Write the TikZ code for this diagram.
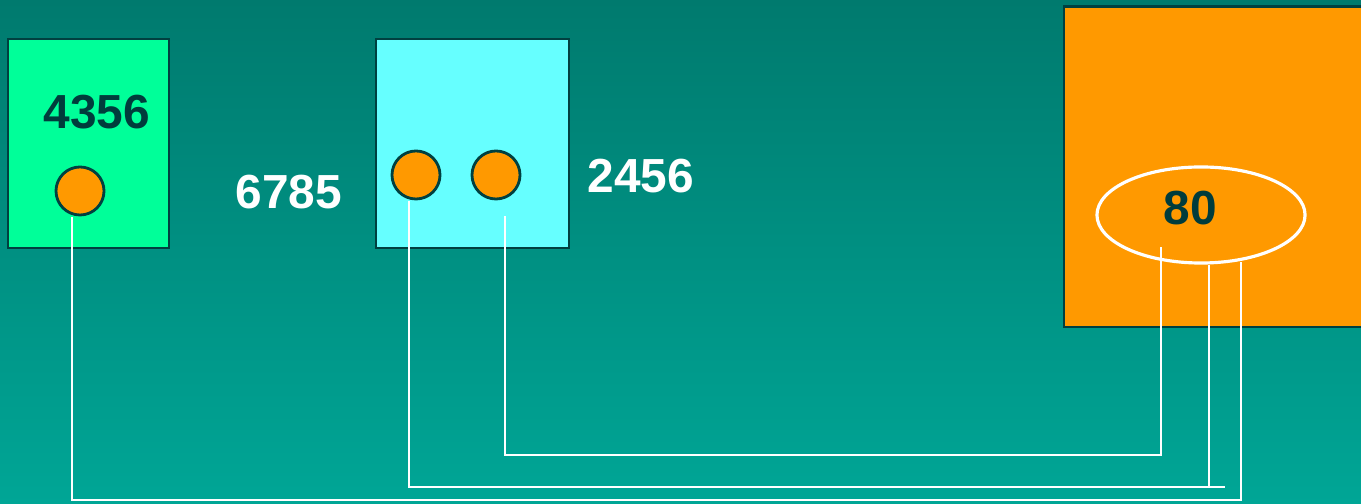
\documentclass[tikz,border=0pt]{standalone}
\usepackage{fontspec}
\setmainfont{Liberation Sans}
\usepackage{tikz}
\usetikzlibrary{positioning,calc,shapes.geometric}
\definecolor{bgtop}{RGB}{0,122,110}
\definecolor{bgbot}{RGB}{0,166,150}
\definecolor{edgecolor}{RGB}{0,64,64}
\definecolor{darktext}{RGB}{0,60,60}
\definecolor{greenbox}{RGB}{0,255,153}
\definecolor{cyanbox}{RGB}{102,255,255}
\definecolor{orangebox}{RGB}{255,153,0}
\tikzset{
  mem box/.style={
    draw=edgecolor,
    line width=0.8pt,
    inner sep=0pt
  },
  pin/.style={
    circle,
    draw=edgecolor,
    line width=0.8pt,
    fill=orangebox,
    inner sep=0pt,
    minimum size=0.48cm
  },
  val/.style={
    font=\fontsize{13.6}{16}\selectfont\bfseries
  },
  wire/.style={
    draw=white,
    line width=0.75pt
  }
}

\begin{document}
\begin{tikzpicture}[x=0.01cm,y=-0.01cm]

  % Background
  \useasboundingbox (0,0) rectangle (1361,504);
  \clip (0,0) rectangle (1361,504);
  \shade[top color=bgtop, bottom color=bgbot] (0,0) rectangle (1361,504);

  % Left box
  \node[mem box, fill=greenbox, minimum width=1.61cm, minimum height=2.09cm] (boxA) at (88.5,143.5) {};
  \node[val, text=darktext] (numA) at (97,112) {4356};
  \node[pin] (pinA) at (80,191) {};

  % Middle box
  \node[mem box, fill=cyanbox, minimum width=1.93cm, minimum height=2.09cm] (boxB) at (472.5,143.5) {};
  \node[pin] (pinB) at (416,175) {};
  \node[pin] (pinC) at (496,175) {};
  \node[val, text=white] (numB) at (289,192) {6785};
  \node[val, text=white] (numC) at (641,176) {2456};

  % Right box
  \node[mem box, fill=orangebox, minimum width=3.1cm, minimum height=3.2cm] (boxD) at (1219,167) {};
  \node[ellipse, draw=white, line width=0.9pt, minimum width=2.08cm, minimum height=0.96cm] (ring) at (1201,215) {};
  \node[val, text=darktext] (numD) at (1190,208) {80};

  % Wire ends
  \coordinate (a1) at ($(pinA.south)+(-8,1)$);
  \coordinate (a2) at (1241,500);
  \coordinate (a3) at (1241,262);
  \coordinate (b1) at ($(pinB.south)+(-7,1)$);
  \coordinate (b2) at (1225,487);
  \coordinate (b3) at (1209,487);
  \coordinate (c1) at ($(pinC.south)+(9,16)$);
  \coordinate (c2) at (1161,455);
  \coordinate (c3) at (1161,247);

  % Wires
  \draw[wire] (a1) |- (a2) -- (a3);
  \draw[wire] (b1) |- (b2);
  \draw[wire] (b3) -- (b3 |- ring.south);
  \draw[wire] (c1) |- (c2) -- (c3);

\end{tikzpicture}
\end{document}
